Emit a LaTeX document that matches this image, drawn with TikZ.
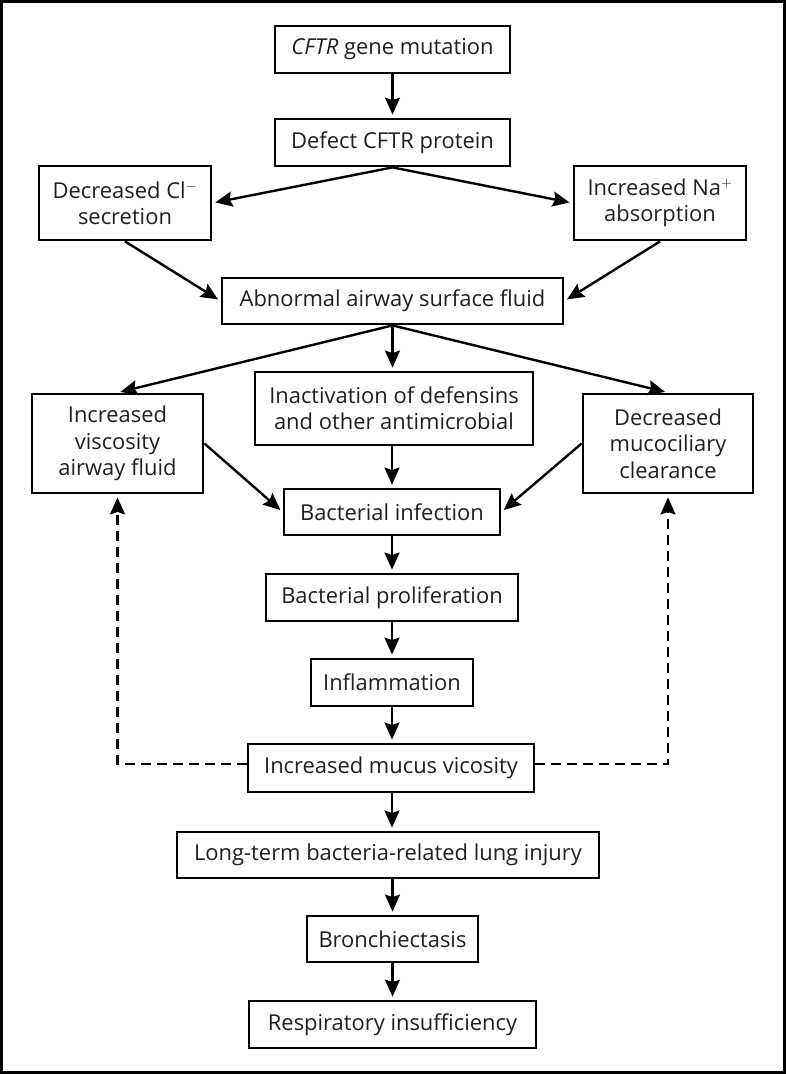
\documentclass[tikz,border=0pt]{standalone}
\usepackage{fontspec}
\setmainfont{Open Sans}
\usetikzlibrary{arrows.meta}
\begin{document}
\begin{tikzpicture}[x=1bp,y=-1bp,
 box/.style={draw, line width=2.8bp, inner sep=0pt, align=center, text=black!88, font=\fontsize{22}{26.5}\selectfont},
 arr/.style={line width=2.4bp, -{Stealth[length=17bp,width=15bp,inset=2.5bp]}, shorten >=3bp},
 dsh/.style={arr, dash pattern=on 10bp off 6bp}]
\useasboundingbox (0,0) rectangle (786,1074);
\draw[line width=3bp] (1.5,1.5) rectangle (784.5,1072.5);
\node[box, minimum width=235bp, minimum height=47bp] (cftr) at (392.5,49.5) {\textit{CFTR} gene mutation};
\node[box, minimum width=235bp, minimum height=47bp] (defect) at (392.5,142.5) {Defect CFTR protein};
\node[box, minimum width=172bp, minimum height=74bp] (cl) at (125,203) {Decreased Cl$^{-}$\\secretion};
\node[box, minimum width=172bp, minimum height=74bp] (na) at (660,203) {Increased Na$^{+}$\\absorption};
\node[box, minimum width=341bp, minimum height=46bp] (asf) at (392.5,301) {Abnormal airway surface fluid};
\node[box, minimum width=171bp, minimum height=99bp] (visc) at (117.5,443.5) {Increased\\viscosity\\airway fluid};
\node[box, minimum width=278bp, minimum height=73bp] (inact) at (394,408.5) {Inactivation of defensins\\and other antimicrobial};
\node[box, minimum width=170bp, minimum height=99bp] (muco) at (668,443.5) {Decreased\\mucociliary\\clearance};
\node[box, minimum width=216bp, minimum height=46bp] (binf) at (392,512) {Bacterial infection};
\node[box, minimum width=252bp, minimum height=47bp] (bprol) at (392,597.5) {Bacterial proliferation};
\node[box, minimum width=162bp, minimum height=47bp] (infl) at (392,682.5) {Inflammation};
\node[box, minimum width=286bp, minimum height=48bp] (mucus) at (391,768) {Increased mucus vicosity};
\node[box, minimum width=422bp, minimum height=46bp] (lt) at (388,855) {Long-term bacteria-related lung injury};
\node[box, minimum width=171bp, minimum height=46bp] (bronch) at (392.5,939) {Bronchiectasis};
\node[box, minimum width=287bp, minimum height=47bp] (resp) at (392.5,1024.5) {Respiratory insufficiency};

\draw[arr] (cftr.south) -- (defect.north);
\draw[arr] (defect.south) -- (cl.east);
\draw[arr] (defect.south) -- (na.west);
\draw[arr] (cl.south) -- (asf.west);
\draw[arr] (na.south) -- (asf.east);
\draw[arr] (asf.south) -- (visc.north);
\draw[arr] (asf.south) -- (asf.south |- inact.north);
\draw[arr] (asf.south) -- (muco.north);
\draw[arr] (visc.east) -- (binf.west);
\draw[arr] (muco.west) -- (binf.east);
\draw[arr] (inact.south -| binf.north) -- (binf.north);
\draw[arr] (binf.south) -- (bprol.north);
\draw[arr] (bprol.south) -- (infl.north);
\draw[arr] (infl.south) -- (infl.south |- mucus.north);
\draw[arr] (mucus.south -| infl.south) -- (infl.south |- lt.north);
\draw[arr] (lt.south -| bronch.north) -- (bronch.north);
\draw[arr] (bronch.south) -- (resp.north);
\draw[dsh] ([yshift=4bp]mucus.west) -- ([yshift=4bp]visc.south |- mucus.west) -- (visc.south);
\draw[dsh] ([yshift=4bp]mucus.east) -- ([yshift=4bp]muco.south |- mucus.east) -- (muco.south);
\end{tikzpicture}
\end{document}
